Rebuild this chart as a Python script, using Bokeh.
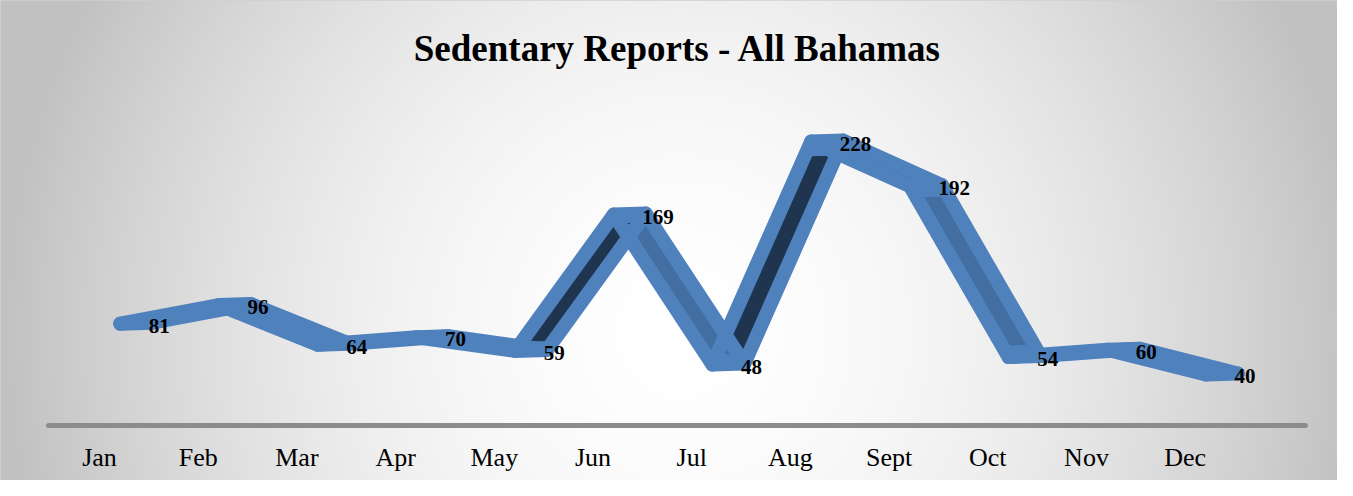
import numpy as np
from bokeh.plotting import figure
from bokeh.models import Range1d, LinearAxis, FixedTicker, Label, ColumnDataSource
from bokeh.core.properties import value
from bokeh.embed import file_html
from bokeh.resources import INLINE

# ---- data ----
months = ["Jan", "Feb", "Mar", "Apr", "May", "Jun", "Jul", "Aug", "Sept", "Oct", "Nov", "Dec"]
reports = [81, 96, 64, 70, 59, 169, 48, 228, 192, 54, 60, 40]
title_text = "Sedentary Reports - All Bahamas"

# ---- layout constants ----
W, H = 1337, 480
PX_X = 98.7      # px per category
PX_Y = 1.239     # px per report
x_start = -99 / PX_X
x_end = x_start + W / PX_X
y_start = -(H - 423.5) / PX_Y
y_end = y_start + H / PX_Y

p = figure(width=W, height=H, output_backend="svg", toolbar_location=None,
           x_range=Range1d(x_start, x_end), y_range=Range1d(y_start, y_end),
           min_border=0, x_axis_location=None, y_axis_location=None)
p.grid.visible = False
p.outline_line_color = "#D0D0D0"
p.outline_line_width = 1
p.background_fill_color = "white"
p.border_fill_color = "white"

# ---- radial gradient background ----
yy, xx = np.mgrid[0:H, 0:W].astype(float)
cx, cy, rx, ry = 680.0, 330.0, 680.0, 700.0
r = np.sqrt(((xx - cx) / rx) ** 2 + ((yy - cy) / ry) ** 2)
r = np.clip(r, 0, 1)
g = (255 - 62 * r ** 1.8).astype(np.uint32)
img = np.empty((H, W), dtype=np.uint32)
view = img.view(dtype=np.uint8).reshape((H, W, 4))
view[:, :, 0] = g
view[:, :, 1] = g
view[:, :, 2] = g
view[:, :, 3] = 255
img = img[::-1]
p.image_rgba(image=[img], x=x_start, y=y_start, dw=x_end - x_start, dh=y_end - y_start)

# ---- axis ----
ax = LinearAxis(fixed_location=-1, ticker=FixedTicker(ticks=list(range(len(months)))),
                major_label_overrides={i: m for i, m in enumerate(months)},
                bounds=(-0.517, 12.22))
ax.axis_line_color = "#8C8C8C"
ax.axis_line_width = 5
ax.axis_line_cap = "round"
ax.major_tick_line_color = None
ax.minor_tick_line_color = None
ax.major_tick_out = 0
ax.major_tick_in = 0
ax.major_label_standoff = 18
ax.major_label_text_font = "Liberation Serif"
ax.major_label_text_font_size = "26px"
ax.major_label_text_color = "black"
p.add_layout(ax, "below")

# ---- 3D ribbon line: front edge + back edge offset by a depth vector ----
BLUE = "#4F81BD"
T = 14                      # edge thickness, px
DEPTH_X, DEPTH_Y = 32, 1    # depth vector, px (right, up)
INSET = 0.07                # shaded side faces stop a little short of the corners
idx = np.arange(len(months), dtype=float)
yv = np.array(reports, dtype=float)
xf, yf = idx + 0.21, yv
xb, yb = xf + DEPTH_X / PX_X, yf + DEPTH_Y / PX_Y


def lerp(a0, a1, t):
    return a0 + (a1 - a0) * t


def faces(inset):
    fx, fy = [], []
    for k in range(len(xf) - 1):
        fx.append([lerp(xf[k], xf[k + 1], inset), lerp(xf[k], xf[k + 1], 1 - inset),
                   lerp(xb[k], xb[k + 1], 1 - inset), lerp(xb[k], xb[k + 1], inset)])
        fy.append([lerp(yf[k], yf[k + 1], inset), lerp(yf[k], yf[k + 1], 1 - inset),
                   lerp(yb[k], yb[k + 1], 1 - inset), lerp(yb[k], yb[k + 1], inset)])
    return fx, fy


rising = (yf[1:] - yf[:-1]) > 0
full_x, full_y = faces(0.0)
p.patches(full_x, full_y, fill_color=BLUE, line_color=BLUE, line_width=1)
in_x, in_y = faces(INSET)
shade = ColumnDataSource(dict(xs=in_x, ys=in_y,
                              c=["#1F344F" if up else "#426EA2" for up in rising]))
p.patches("xs", "ys", source=shade, fill_color="c", line_color="c", line_width=1)

p.segment(xf, yf, xb, yb, line_width=T, line_color=BLUE, line_cap="round")
p.line(xb, yb, line_width=T, line_color=BLUE, line_join="round", line_cap="round")
p.line(xf, yf, line_width=T, line_color=BLUE, line_join="round", line_cap="round")

# ---- value labels ----
p.text(idx + 0.5, yv, text=[str(v) for v in reports], text_align="left", text_baseline="middle",
       y_offset=2, text_font=value("Liberation Serif"), text_font_style="bold",
       text_font_size="21px", text_color="black")

# ---- title ----
p.add_layout(Label(x=(x_start + x_end) / 2 + 0.09, y=y_end - 48 / PX_Y, text=title_text,
                   text_align="center", text_baseline="middle",
                   text_font="Liberation Serif", text_font_style="bold",
                   text_font_size="37px", text_color="black"))

open("out.html", "w").write(file_html(p, INLINE))
